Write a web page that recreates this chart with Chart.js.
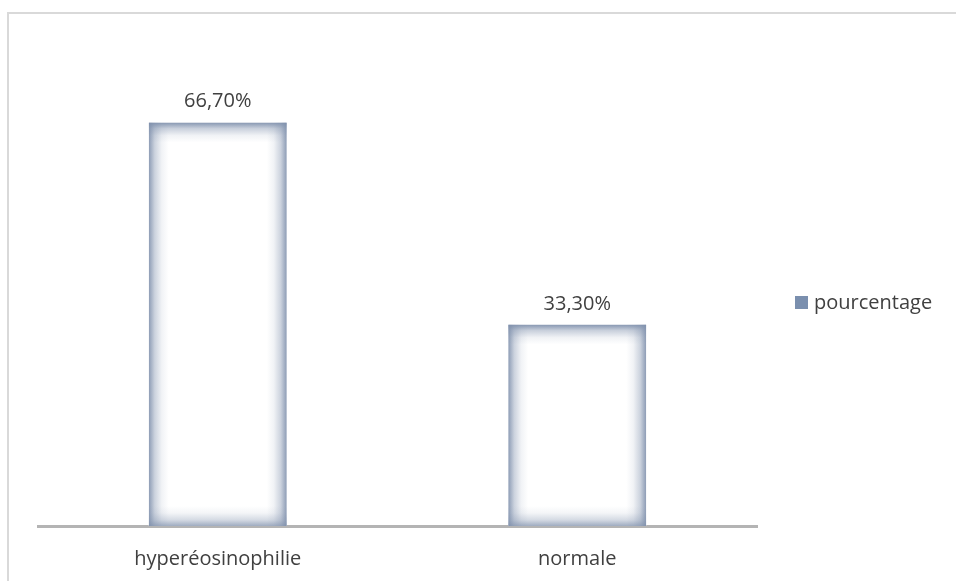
<!DOCTYPE html>
<html>
<head>
<meta charset="utf-8">
<script src="https://cdn.jsdelivr.net/npm/chart.js@4"></script>
<style>
  html, body { margin: 0; padding: 0; background: #ffffff; overflow: hidden; }
  #wrap { width: 956px; height: 581px; position: relative; }
  canvas { display: block; }
</style>
</head>
<body>
<div id="wrap"><canvas id="chart"></canvas></div>
<script>
const categories = ['hyperéosinophilie', 'normale'];
const pourcentage = [66.7, 33.3];
const seriesLabel = 'pourcentage';

const FONT = '"Open Sans", "Liberation Sans", sans-serif';

// frame around the picture (left + top only, like the original)
const framePlugin = {
    id: 'frame',
    beforeDraw(chart) {
        const ctx = chart.ctx;
        ctx.save();
        ctx.strokeStyle = '#d9d9d9';
        ctx.lineWidth = 2;
        ctx.beginPath();
        ctx.moveTo(8, 581);
        ctx.lineTo(8, 13);
        ctx.lineTo(956, 13);
        ctx.stroke();
        ctx.restore();
    }
};

function edgeGlow(ctx, x0, y0, x1, y1, a) {
    const g = ctx.createLinearGradient(x0, y0, x1, y1);
    g.addColorStop(0, 'rgba(127,144,172,' + a + ')');
    g.addColorStop(0.3, 'rgba(127,144,172,' + (a * 0.45) + ')');
    g.addColorStop(0.65, 'rgba(127,144,172,' + (a * 0.12) + ')');
    g.addColorStop(1, 'rgba(127,144,172,0)');
    return g;
}

// soft blue-grey inner glow on the bars + value labels
const barStylePlugin = {
    id: 'barStyle',
    afterDatasetsDraw(chart) {
        const ctx = chart.ctx;
        const meta = chart.getDatasetMeta(0);
        meta.data.forEach((bar, i) => {
            const left = bar.x - bar.width / 2;
            const right = bar.x + bar.width / 2;
            const top = bar.y;
            const bottom = bar.base;
            const w = right - left, h = bottom - top;
            const depth = 20;
            ctx.save();
            ctx.beginPath();
            ctx.rect(left, top, w, h);
            ctx.clip();
            ctx.fillStyle = edgeGlow(ctx, left, 0, left + depth, 0, 0.9);
            ctx.fillRect(left, top, depth, h);
            ctx.fillStyle = edgeGlow(ctx, right, 0, right - depth, 0, 0.9);
            ctx.fillRect(right - depth, top, depth, h);
            ctx.fillStyle = edgeGlow(ctx, 0, top, 0, top + depth, 0.95);
            ctx.fillRect(left, top, w, depth);
            ctx.fillStyle = edgeGlow(ctx, 0, bottom, 0, bottom - depth, 0.75);
            ctx.fillRect(left, bottom - depth, w, depth);
            ctx.restore();

            // value label
            ctx.save();
            ctx.fillStyle = '#404040';
            ctx.font = '20px ' + FONT;
            ctx.textAlign = 'center';
            ctx.textBaseline = 'alphabetic';
            const txt = pourcentage[i].toFixed(2).replace('.', ',') + '%';
            ctx.fillText(txt, bar.x, top - 15);
            ctx.restore();
        });
    },
    afterDraw(chart) {
        // legend on the right
        const ctx = chart.ctx;
        ctx.save();
        ctx.fillStyle = '#7a8fae';
        ctx.fillRect(795, 296, 13, 13);
        ctx.fillStyle = '#404040';
        ctx.font = '20px ' + FONT;
        ctx.textAlign = 'left';
        ctx.textBaseline = 'middle';
        ctx.fillText(seriesLabel, 814, 303);
        ctx.restore();
    }
};

new Chart(document.getElementById('chart').getContext('2d'), {
    type: 'bar',
    data: {
        labels: categories,
        datasets: [{
            label: seriesLabel,
            data: pourcentage,
            backgroundColor: '#ffffff',
            borderWidth: 0,
            barPercentage: 0.384,
            categoryPercentage: 1
        }]
    },
    options: {
        responsive: true,
        maintainAspectRatio: false,
        animation: false,
        layout: { padding: { left: 38, right: 199, top: 42, bottom: 3 } },
        scales: {
            x: {
                grid: { display: false, drawTicks: false },
                border: { display: true, color: '#b4b4b4', width: 3 },
                ticks: { color: '#404040', font: { family: FONT, size: 20 }, padding: 21 },
                afterFit(scale) { scale.height = 52; }
            },
            y: {
                display: false,
                min: 0,
                max: 80
            }
        },
        plugins: {
            legend: { display: false },
            tooltip: { enabled: false }
        }
    },
    plugins: [framePlugin, barStylePlugin]
});
</script>
</body>
</html>
